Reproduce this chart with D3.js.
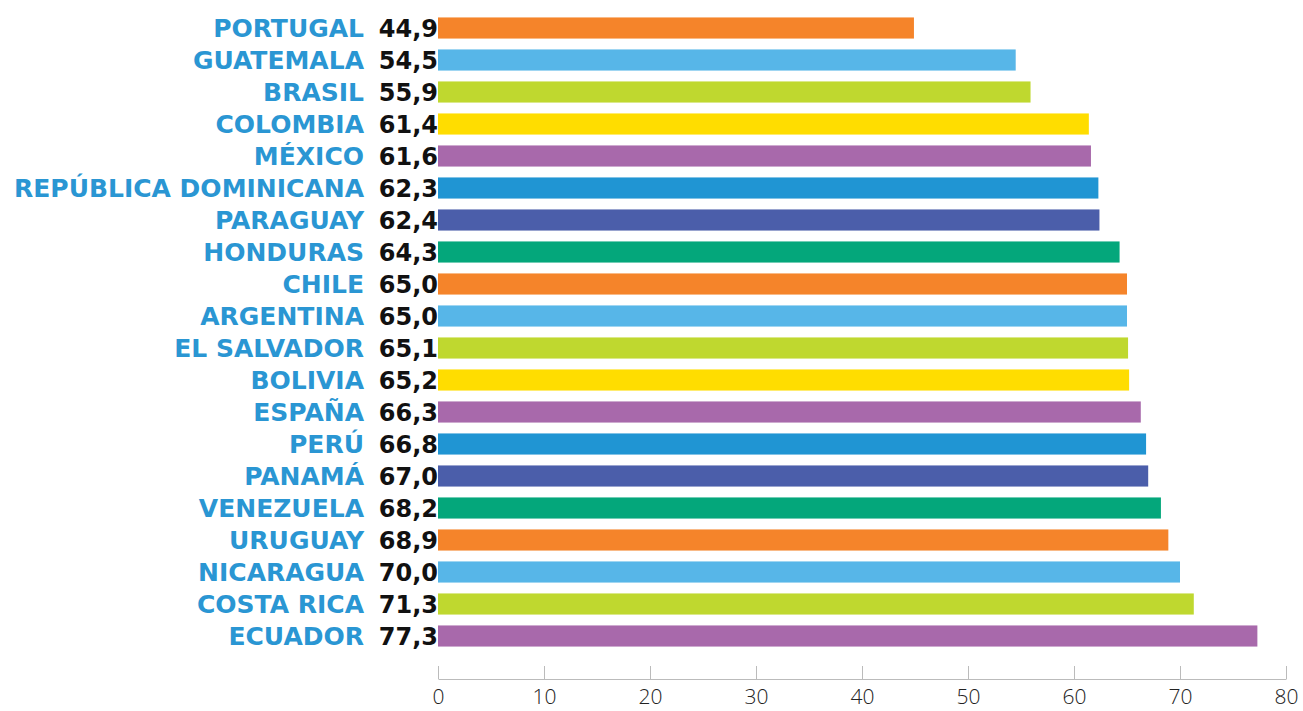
<!DOCTYPE html>
<html>
<head>
<meta charset="utf-8">
<script src="https://cdn.jsdelivr.net/npm/d3@7"></script>
<style>
  body { margin: 0; background: #fff; }
  svg { display: block; }
</style>
</head>
<body>
<svg width="1303" height="711"></svg>
<script>
// countries, top to bottom
const countries = ['PORTUGAL', 'GUATEMALA', 'BRASIL', 'COLOMBIA', 'MÉXICO',
  'REPÚBLICA DOMINICANA', 'PARAGUAY', 'HONDURAS', 'CHILE', 'ARGENTINA',
  'EL SALVADOR', 'BOLIVIA', 'ESPAÑA', 'PERÚ', 'PANAMÁ', 'VENEZUELA',
  'URUGUAY', 'NICARAGUA', 'COSTA RICA', 'ECUADOR'];
const values = [44.9, 54.5, 55.9, 61.4, 61.6, 62.3, 62.4, 64.3, 65.0, 65.0,
  65.1, 65.2, 66.3, 66.8, 67.0, 68.2, 68.9, 70.0, 71.3, 77.3];
const xTicks = [0, 10, 20, 30, 40, 50, 60, 70, 80];

// bar colours (the last bar skips the yellow)
const barColors = ['#f5842a', '#57b6e8', '#bfd82f', '#ffdd00', '#a869ab',
  '#2095d3', '#4b5eaa', '#04a77b', '#f5842a', '#57b6e8', '#bfd82f', '#ffdd00',
  '#a869ab', '#2095d3', '#4b5eaa', '#04a77b', '#f5842a', '#57b6e8', '#bfd82f',
  '#a869ab'];

const data = countries.map((c, i) => ({ country: c, value: values[i] }));

const margin = { left: 438, top: 12 };
const inner = { x: 848, y: 640 };

const x = d3.scaleLinear().domain([0, 80]).range([0, inner.x]);
const y = d3.scaleBand().domain(countries).range([0, inner.y]).paddingInner(0.34).paddingOuter(0.17);

const color = d3.scaleOrdinal(countries, barColors);

const svg = d3.select('svg');
const g = svg.append('g')
  .attr('transform', 'translate(' + margin.left + ',' + margin.top + ')');

// bars
g.selectAll('rect')
  .data(data)
  .enter()
  .append('rect')
  .attr('x', 0)
  .attr('y', d => y(d.country))
  .attr('width', d => x(d.value))
  .attr('height', y.bandwidth())
  .style('fill', d => color(d.country));

const fmt = v => v.toFixed(1).replace('.', ',');

// value labels
g.selectAll('text.val')
  .data(data)
  .enter()
  .append('text')
  .attr('class', 'val')
  .attr('x', 0)
  .attr('y', d => y(d.country) + y.bandwidth() / 2)
  .attr('dy', '0.36em')
  .attr('text-anchor', 'end')
  .style('font-family', '"DejaVu Sans", sans-serif')
  .style('font-weight', 700)
  .style('font-size', '24px')
  .style('fill', '#111')
  .text(d => fmt(d.value));

// country labels
g.selectAll('text.name')
  .data(data)
  .enter()
  .append('text')
  .attr('class', 'name')
  .attr('x', -74)
  .attr('y', d => y(d.country) + y.bandwidth() / 2)
  .attr('dy', '0.36em')
  .attr('text-anchor', 'end')
  .style('font-family', '"DejaVu Sans", sans-serif')
  .style('font-weight', 700)
  .style('font-size', '25px')
  .style('fill', '#2a96d3')
  .text(d => d.country);

// x axis, ticks pointing up
const axis = g.append('g')
  .attr('transform', 'translate(0,' + (679 - margin.top) + ')')
  .call(d3.axisBottom(x).tickValues(xTicks).tickSizeInner(-13).tickSizeOuter(0).tickPadding(10));

axis.select('.domain').attr('stroke', '#bbb');
axis.selectAll('.tick line').attr('stroke', '#bbb');
axis.selectAll('.tick text')
  .style('font-family', '"Open Sans", sans-serif')
  .style('font-weight', 300)
  .style('font-size', '21px')
  .style('fill', '#222');
</script>
</body>
</html>
